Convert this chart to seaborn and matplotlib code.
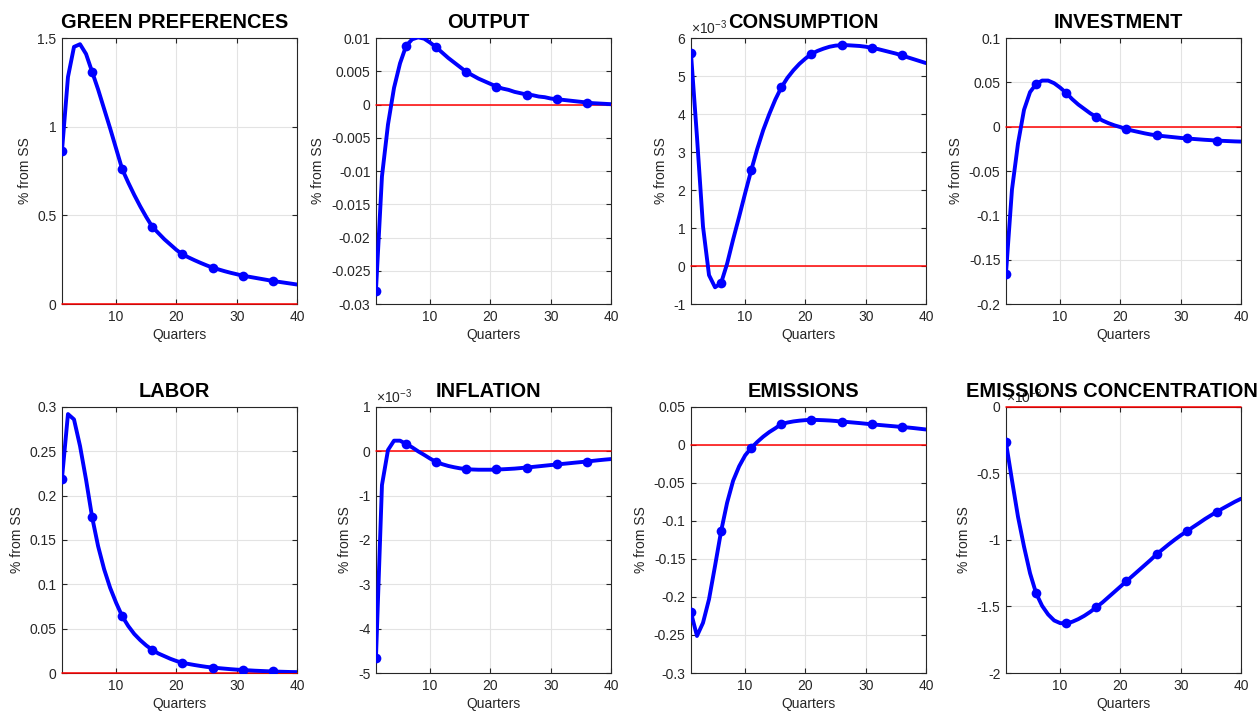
import numpy as np
import pandas as pd
import seaborn as sns
import matplotlib.pyplot as plt
from matplotlib.ticker import FuncFormatter

quarters = np.arange(1, 41)

green_pref = [0.861, 1.28, 1.45, 1.465, 1.41, 1.31, 1.21, 1.10, 0.99, 0.875,
              0.76, 0.685, 0.615, 0.55, 0.49, 0.435, 0.40, 0.365, 0.335, 0.305,
              0.28, 0.263, 0.247, 0.232, 0.218, 0.205, 0.195, 0.185, 0.176, 0.168,
              0.16, 0.154, 0.148, 0.142, 0.136, 0.13, 0.125, 0.12, 0.115, 0.11]
output = [-0.028, -0.0108, -0.0030, 0.0025, 0.0062, 0.0088, 0.0098, 0.0101, 0.0099, 0.0093,
          0.0086, 0.0078, 0.0070, 0.0063, 0.0056, 0.0049, 0.0044, 0.0039, 0.0035, 0.0031,
          0.0027, 0.0024, 0.0022, 0.0019, 0.0017, 0.0015, 0.0014, 0.0012, 0.0011, 0.0009,
          0.0008, 0.0007, 0.0006, 0.0005, 0.0004, 0.0003, 0.0002, 0.00015, 0.0001, 0.00005]
# consumption, inflation and emissions concentration are in units of 1e-3
consumption = [5.61, 3.4, 1.04, -0.24, -0.56, -0.45, 0.06, 0.7, 1.3, 1.92,
               2.52, 3.08, 3.58, 4.0, 4.38, 4.70, 4.95, 5.15, 5.32, 5.46,
               5.58, 5.66, 5.72, 5.77, 5.80, 5.81, 5.81, 5.80, 5.79, 5.77,
               5.74, 5.71, 5.67, 5.63, 5.59, 5.54, 5.49, 5.44, 5.39, 5.34]
investment = [-0.166, -0.071, -0.019, 0.019, 0.039, 0.048, 0.052, 0.052, 0.049, 0.044,
              0.038, 0.031, 0.025, 0.020, 0.015, 0.011, 0.007, 0.004, 0.0015, -0.0005,
              -0.003, -0.0045, -0.006, -0.0075, -0.0088, -0.0098, -0.0106, -0.0113, -0.0120, -0.0127,
              -0.0133, -0.0138, -0.0143, -0.0148, -0.0152, -0.0157, -0.016, -0.0163, -0.0166, -0.0168]
labor = [0.219, 0.292, 0.286, 0.256, 0.218, 0.176, 0.143, 0.117, 0.096, 0.079,
         0.064, 0.053, 0.044, 0.037, 0.031, 0.026, 0.022, 0.019, 0.016, 0.0135,
         0.0115, 0.0102, 0.009, 0.0079, 0.0069, 0.0062, 0.0055, 0.0049, 0.0043, 0.0038,
         0.0034, 0.003, 0.0026, 0.0023, 0.002, 0.0018, 0.0015, 0.0013, 0.0011, 0.001]
inflation = [-4.67, -0.76, 0.03, 0.24, 0.24, 0.165, 0.09, 0.0, -0.08, -0.165,
             -0.24, -0.29, -0.33, -0.36, -0.385, -0.40, -0.41, -0.415, -0.415, -0.415,
             -0.41, -0.405, -0.398, -0.39, -0.378, -0.365, -0.352, -0.338, -0.324, -0.31,
             -0.297, -0.283, -0.27, -0.256, -0.243, -0.23, -0.215, -0.2, -0.187, -0.175]
emissions = [-0.2202, -0.2513, -0.234, -0.203, -0.159, -0.1136, -0.076, -0.047, -0.028, -0.0136,
             -0.004, 0.004, 0.011, 0.017, 0.022, 0.0275, 0.0295, 0.031, 0.032, 0.0327,
             0.033, 0.0329, 0.0326, 0.0322, 0.0316, 0.0307, 0.0302, 0.0295, 0.0288, 0.028,
             0.0272, 0.0265, 0.0258, 0.0251, 0.0244, 0.0237, 0.023, 0.0222, 0.0213, 0.0204]
emis_conc = [-0.265, -0.55, -0.825, -1.05, -1.25, -1.40, -1.495, -1.56, -1.605, -1.625,
             -1.627, -1.615, -1.595, -1.57, -1.54, -1.505, -1.47, -1.43, -1.39, -1.35,
             -1.31, -1.27, -1.23, -1.19, -1.15, -1.107, -1.07, -1.033, -0.998, -0.965,
             -0.935, -0.904, -0.874, -0.843, -0.815, -0.787, -0.762, -0.737, -0.712, -0.69]

titles = ['GREEN PREFERENCES', 'OUTPUT', 'CONSUMPTION', 'INVESTMENT',
          'LABOR', 'INFLATION', 'EMISSIONS', 'EMISSIONS CONCENTRATION']
series = [green_pref, output, consumption, investment, labor, inflation, emissions, emis_conc]
ylims = [(0, 1.5), (-0.03, 0.01), (-1, 6), (-0.2, 0.1),
         (0, 0.3), (-5, 1), (-0.3, 0.05), (-2, 0)]
ysteps = [0.5, 0.005, 1, 0.05, 0.05, 1, 0.05, 0.5]
scaled = [False, False, True, False, False, True, False, True]

sns.set_theme(style='ticks')
plt.rcParams['font.family'] = ['Liberation Sans', 'DejaVu Sans']
plt.rcParams['mathtext.fontset'] = 'custom'
plt.rcParams['mathtext.rm'] = 'Liberation Sans'
plt.rcParams['axes.unicode_minus'] = False

fig = plt.figure(figsize=(12.59, 7.13), dpi=100)
lefts = [0.0492, 0.2986, 0.5488, 0.7990]
bottoms = [0.5736, 0.0561]
w, h = 0.1867, 0.3731


def tick_fmt(v, p):
    v = round(v, 6)
    if abs(v) < 1e-9:
        return '0'
    return '{:g}'.format(v)


for i, (title, vals) in enumerate(zip(titles, series)):
    ax = fig.add_axes([lefts[i % 4], bottoms[i // 4], w, h])
    df = pd.DataFrame({'Quarters': quarters, 'value': vals})
    ax.axhline(0, color='red', lw=1.1, zorder=2, clip_on=False)
    sns.lineplot(data=df, x='Quarters', y='value', ax=ax, color='blue', lw=2.8,
                 marker='o', markersize=7, markeredgewidth=0, markevery=5, zorder=3)
    lo, hi = ylims[i]
    ax.set_xlim(1, 40)
    ax.set_ylim(lo, hi)
    ax.set_xticks([10, 20, 30, 40])
    ax.set_yticks(np.arange(lo, hi + ysteps[i] / 2, ysteps[i]))
    ax.yaxis.set_major_formatter(FuncFormatter(tick_fmt))
    ax.grid(True, color='#e3e3e3', lw=0.8)
    ax.set_axisbelow(True)
    for sp in ax.spines.values():
        sp.set_visible(True)
        sp.set_color('#262626')
        sp.set_linewidth(0.8)
        sp.set_zorder(1)
    ax.tick_params(direction='in', top=True, right=True, length=3.5, width=0.8,
                   labelsize=10, colors='#262626', pad=4)
    ax.set_xlabel('Quarters', fontsize=10, color='#262626', labelpad=3)
    ax.set_ylabel('% from SS', fontsize=10, color='#262626', labelpad=4)
    tx = 0.45 if title == 'EMISSIONS CONCENTRATION' else 0.48
    ax.set_title(title, fontsize=14.4, fontweight='bold', color='black', pad=7, x=tx)
    if scaled[i]:
        ax.text(0.0, 1.004, r'$\times10^{-3}$', transform=ax.transAxes,
                ha='left', va='bottom', fontsize=10, color='#262626')

fig.savefig('out.png', dpi=100)
